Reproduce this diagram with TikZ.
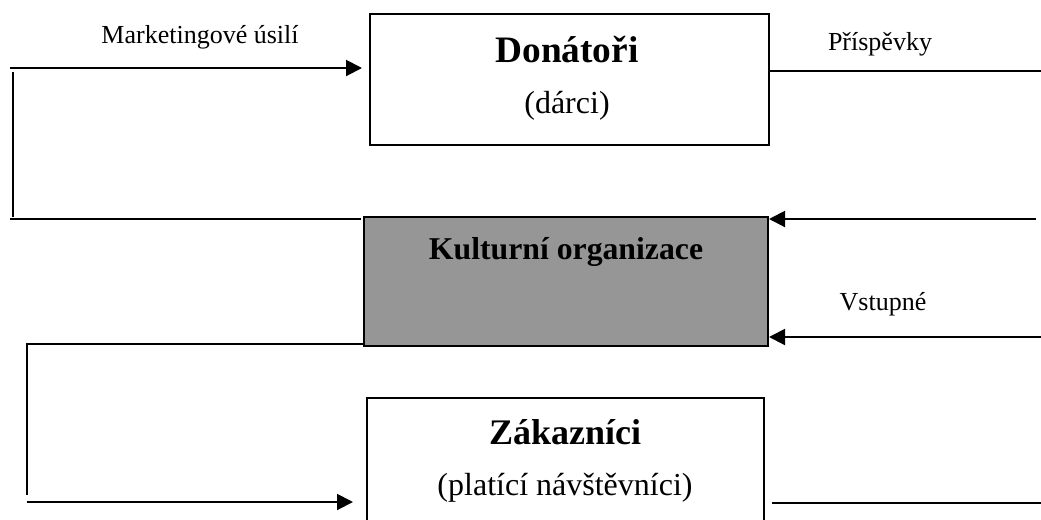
\documentclass[tikz,border=0pt]{standalone}
\usepackage{fontspec}
\setmainfont{Liberation Serif}
\usetikzlibrary{arrows.meta}
\definecolor{boxgray}{HTML}{969696}
\tikzset{
  box/.style={draw=black, line width=1.5pt, rectangle, inner sep=0pt},
  conn/.style={line width=1.5pt},
  arr/.style={conn, -{Triangle[length=12pt,width=12pt]}},
  lbl/.style={anchor=base, inner sep=0pt, font=\fontsize{19.5pt}{22pt}\selectfont},
  title/.style={anchor=base, inner sep=0pt, font=\fontsize{28pt}{32pt}\selectfont\bfseries},
  sub/.style={anchor=base, inner sep=0pt, font=\fontsize{24pt}{28pt}\selectfont},
}
\begin{document}
\begin{tikzpicture}[x=0.75pt, y=-0.75pt]
\useasboundingbox (0,0) rectangle (1041,519);
\clip (0,0) rectangle (1041,519);
% boxes
\node[box, fill=white, minimum width=399*0.75pt, minimum height=131*0.75pt] (don) at (569.5,79.5) {};
\node[box, fill=boxgray, minimum width=404*0.75pt, minimum height=129*0.75pt] (kult) at (566,281.5) {};
\node[box, fill=white, minimum width=397*0.75pt, minimum height=170*0.75pt] (zak) at (565.5,483) {};
% texts
\node[title] (donT) at (567,62) {Donátoři};
\node[sub] (donS) at (567,113) {(dárci)};
\node[title, font=\fontsize{23.8pt}{28pt}\selectfont\bfseries] (kultT) at (566,259) {Kulturní organizace};
\node[title, font=\fontsize{27pt}{32pt}\selectfont\bfseries] (zakT) at (565,444) {Zákazníci};
\node[sub] (zakS) at (565,495) {(platící návštěvníci)};
\node[lbl] (mkt) at (200,43) {Marketingové úsilí};
\node[lbl] (pris) at (880,50) {Příspěvky};
\node[lbl] (vst) at (883,310) {Vstupné};
% coordinates
\coordinate (m1) at (10,68);
\coordinate (v1) at (13,72);
\coordinate (v2) at (13,217);
\coordinate (h1) at (10,219);
\coordinate (p1) at (1041,71);
\coordinate (a1) at (1036,219);
\coordinate (a2) at (1041,337);
\coordinate (b1) at (27,344);
\coordinate (b2) at (27,495);
\coordinate (b3) at (27,502);
\coordinate (r1) at (1041,503);
% connectors
\draw[arr, shorten >=7*0.75pt] (m1) -- (m1 -| don.west);
\draw[conn] (v1) -- (v2);
\draw[conn, shorten >=2*0.75pt] (h1) -- (h1 -| kult.west);
\draw[conn] (p1 -| don.east) -- (p1);
\draw[arr] (a1) -- (a1 -| kult.east);
\draw[arr] (a2) -- (a2 -| kult.east);
\draw[conn] (b1 -| kult.west) -- (b1) -- (b2);
\draw[arr, shorten >=13*0.75pt] (b3) -- (b3 -| zak.west);
\draw[conn, shorten <=7*0.75pt] (r1 -| zak.east) -- (r1);
\end{tikzpicture}
\end{document}
